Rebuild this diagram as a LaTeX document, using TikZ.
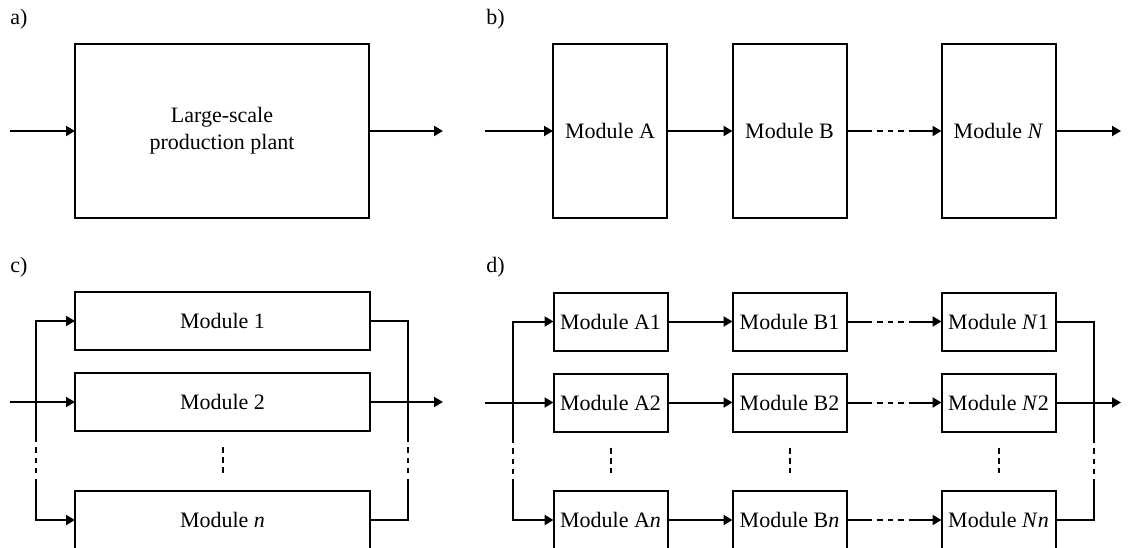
\documentclass[tikz,border=0pt]{standalone}
\usepackage{fontspec}
\setmainfont{Liberation Serif}
\usetikzlibrary{arrows.meta}
\tikzset{
  box/.style={draw, line width=1pt, inner sep=0pt, outer sep=0pt, align=center,
    font=\fontsize{11}{13.5}\selectfont},
  tallbox/.style={box, minimum width=57pt, minimum height=87pt},
  bigbox/.style={box, minimum width=147pt, minimum height=87pt},
  widebox/.style={box, minimum width=147.5pt, minimum height=29pt},
  smallbox/.style={box, minimum width=57pt, minimum height=29pt},
  wire/.style={line width=1pt},
  flow/.style={wire, -{Triangle[length=4.5pt,width=5pt]}},
  gapflow/.style={flow, dash pattern=on 12.5pt off 2.5pt on 3pt off 2.5pt on 2.5pt off 2.5pt on 3pt off 2.5pt on 60pt off 1pt},
  busgap/.style={wire, dash pattern=on 20pt off 2.5pt on 3pt off 2.5pt on 2.5pt off 2.5pt on 2.5pt off 10pt},
  colgap/.style={wire, dash pattern=on 3pt off 2pt},
  tag/.style={font=\fontsize{11}{13.5}\selectfont, anchor=base west, inner sep=0pt}
}
\begin{document}
\begin{tikzpicture}[x=0.5pt, y=-0.5pt]
\useasboundingbox (0,0) rectangle (1129,547);
\clip (0,0) rectangle (1129,547);

% ---------- a) single large plant ----------
\node[tag] (ta) at (10,24) {a)};
\node[bigbox] (plant) at (222,131) {Large-scale\\production plant};
\coordinate (ain) at (10,131);
\coordinate (aout) at (443,131);
\draw[flow] (ain) -- (plant.west);
\draw[flow] (plant.east) -- (aout);

% ---------- b) modules in series ----------
\node[tag] (tb) at (486,24) {b)};
\node[tallbox] (bA) at (610,131) {Module A};
\node[tallbox] (bB) at (789.5,131) {Module B};
\node[tallbox] (bN) at (998.5,131) {Module \textit{N}};
\coordinate (bin) at (485,131);
\coordinate (bout) at (1121,131);
\draw[flow] (bin) -- (bA.west);
\draw[flow] (bA.east) -- (bB.west);
\draw[gapflow] (bB.east) -- (bN.west);
\draw[flow] (bN.east) -- (bout);

% ---------- c) modules in parallel ----------
\node[tag] (tc) at (10,272) {c)};
\node[widebox] (c1) at (222.5,321) {Module 1};
\node[widebox] (c2) at (222.5,402) {Module 2};
\node[widebox] (cn) at (222.5,520) {Module \textit{n}};
\coordinate (cL) at (36,402);
\coordinate (cLb) at (36,479);
\coordinate (cR) at (408,402);
\coordinate (cRb) at (408,479);
\coordinate (cin) at (10,402);
\coordinate (cout) at (443,402);
% inlet manifold
\draw[flow] (cL) |- (c1.west);
\draw[busgap] (cL) -- (cLb);
\draw[flow] (cLb) |- (cn.west);
\draw[flow] (cin) -- (c2.west);
% outlet manifold
\draw[wire] (c1.east) -| (cR);
\draw[busgap] (cR) -- (cRb);
\draw[wire] (cn.east) -| (cRb);
\draw[flow] (c2.east) -- (cout);
\draw[colgap] ([yshift=-8pt]c2.south) -- ([yshift=9pt]cn.north);

% ---------- d) parallel trains of modules in series ----------
\node[tag] (td) at (486,272) {d)};
\foreach \r/\lab/\y in {1/1/321.5, 2/2/402.5, n/\textit{n}/520} {
  \node[smallbox] (dA\r) at (610.5,\y) {Module A\lab};
  \node[smallbox] (dB\r) at (789.5,\y) {Module B\lab};
  \node[smallbox] (dN\r) at (998.5,\y) {Module \textit{N}\lab};
  \draw[flow] (dA\r.east) -- (dB\r.west);
  \draw[gapflow] (dB\r.east) -- (dN\r.west);
}
\coordinate (dL) at (513,402.5);
\coordinate (dLb) at (513,479);
\coordinate (dR) at (1094,402.5);
\coordinate (dRb) at (1094,479);
\coordinate (din) at (485,402.5);
\coordinate (dout) at (1121,402.5);
% inlet manifold
\draw[flow] (dL) |- (dA1.west);
\draw[busgap] (dL) -- (dLb);
\draw[flow] (dLb) |- (dAn.west);
\draw[flow] (din) -- (dA2.west);
% outlet manifold
\draw[wire] (dN1.east) -| (dR);
\draw[busgap] (dR) -- (dRb);
\draw[wire] (dNn.east) -| (dRb);
\draw[flow] (dN2.east) -- (dout);
% omitted rows
\foreach \c in {A,B,N} {
  \draw[colgap] ([yshift=-8pt]d\c2.south) -- ([yshift=9pt]d\c n.north);
}
\end{tikzpicture}
\end{document}
